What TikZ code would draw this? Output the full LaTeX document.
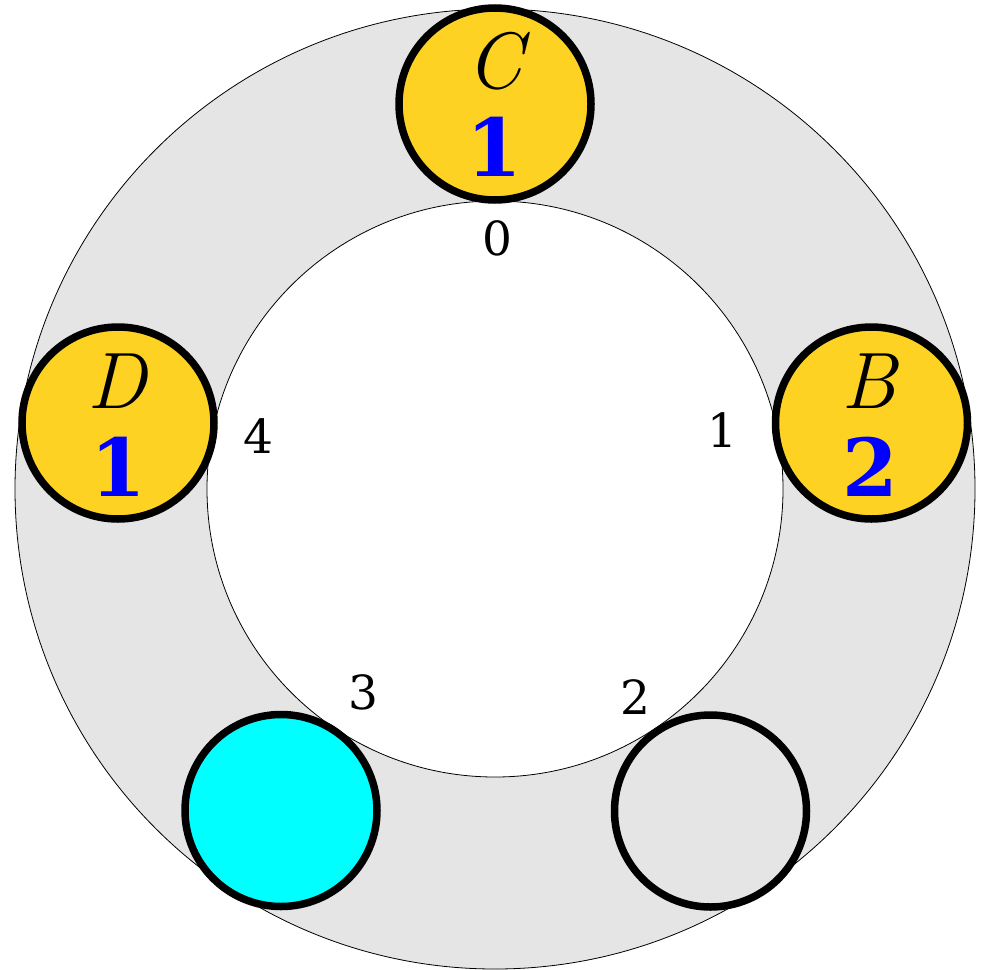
\documentclass[tikz,border=0pt]{standalone}
\usepackage{fontspec}
\setmainfont{DejaVu Serif}
\newfontfamily\lmfont{Latin Modern Roman}
\definecolor{ringgrey}{RGB}{229,229,229}
\definecolor{tokyellow}{RGB}{253,210,35}
\definecolor{tokblue}{RGB}{0,0,255}
\definecolor{tokcyan}{RGB}{0,255,255}
\begin{document}
\begin{tikzpicture}[x=1pt,y=-1pt,
  seat/.style={circle,draw=black,line width=7.5pt,minimum size=192pt,inner sep=0pt},
  player/.style={seat,fill=tokyellow},
  pname/.style={inner sep=0pt,font=\fontsize{80}{80}\selectfont\lmfont\itshape},
  pcount/.style={inner sep=0pt,text=tokblue,font=\fontsize{80}{80}\selectfont\bfseries},
  idx/.style={inner sep=0pt,font=\fontsize{47}{47}\selectfont}]
\path[use as bounding box,fill=white] (0,0) rectangle (982,969);
\coordinate (ctr) at (495,489);
\fill[ringgrey,draw=black,line width=0.8pt] (ctr) circle[radius=480];
\fill[white,draw=black,line width=0.8pt] (ctr) circle[radius=288];
\node[player] (C) at (495,104) {};
\node[player] (B) at (871.5,423) {};
\node[player] (D) at (118,423) {};
\node[seat,fill=tokcyan] (E) at (281,810.5) {};
\node[seat,fill=ringgrey] (F) at (710.5,811) {};
\node[pname] (Cn) at (494,61) {C};
\node[pcount] (Cc) at (494,147) {1};
\node[pname] (Bn) at (869,381) {B};
\node[pcount] (Bc) at (870,467) {2};
\node[pname] (Dn) at (117,381) {D};
\node[pcount] (Dc) at (118,467) {1};
\node[idx] (i0) at (497,238) {0};
\node[idx] (i1) at (722,430) {1};
\node[idx] (i2) at (635,697) {2};
\node[idx] (i3) at (363,692) {3};
\node[idx] (i4) at (258,436) {4};
\end{tikzpicture}
\end{document}
